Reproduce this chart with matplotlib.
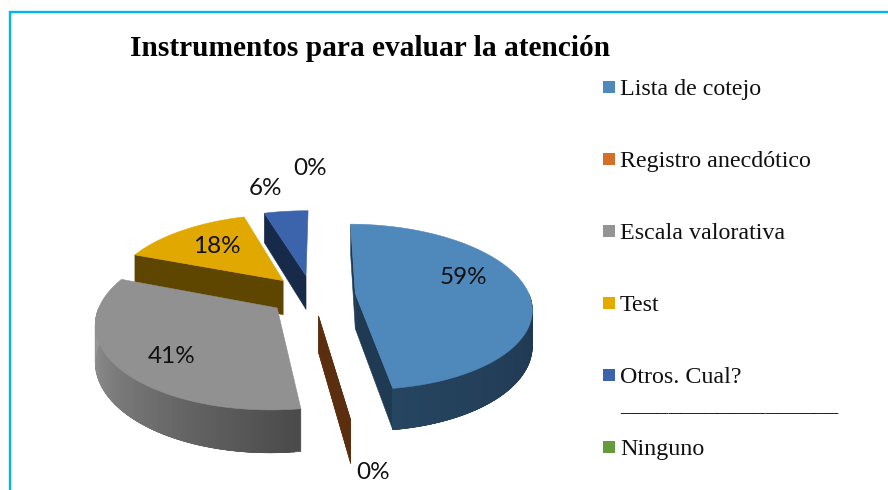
#!/usr/bin/env python3
import numpy as np
import matplotlib
matplotlib.use("Agg")
import matplotlib.pyplot as plt
from matplotlib.colors import to_rgb
from matplotlib.patches import Polygon, Rectangle

# Data (the percentages add up to 124 in the original)
title = "Instrumentos para evaluar la atención"
categories = ["Lista de cotejo", "Registro anecdótico", "Escala valorativa", "Test",
              "Otros. Cual?\n__________________", "Ninguno"]
values = [59, 0, 41, 18, 6, 0]
slice_labels = ["59%", "0%", "41%", "18%", "6%", "0%"]

legend_colors = ["#4f88bb", "#d46f2a", "#949494", "#e3aa00", "#3c64ad", "#659b3c"]
top_colors = ["#4f88bb", "#d46f2a", "#919191", "#e0a800", "#3c64ad", "#659b3c"]
wall_colors = ["#1f3a52", "#5c2e10", "#6e6e6e", "#5e4500", "#172a4a", "#33501e"]
rim_from = ["#1f3650", "#5c2e10", "#9a9a9a", "#5e4500", "#172a4a", "#33501e"]
rim_to = ["#264560", "#5c2e10", "#4a4a4a", "#5e4500", "#172a4a", "#33501e"]
label_pos = [(463, 277), (373, 472), (172, 356), (217, 246), (265, 188), (310, 168)]

# pie geometry in pixels
CX, CY = 312, 295
RX, RY = 174, 81
PERSP = 0.16
DEPTH = 35
EXPLODE = 0.25
START = 0.5


def project(theta, radius, off_u=0.0, off_v=0.0, down=0.0):
    # theta clockwise from the top, disc coords -> image pixels
    t = np.radians(theta)
    u = radius * np.sin(t) + off_u
    v = radius * np.cos(t) + off_v
    s = 1.0 / (1.0 + PERSP * v)
    return CX + RX * u * s, CY - RY * v * s + DEPTH * s * down


def face(ax, pts, color, z):
    ax.add_patch(Polygon(pts, closed=True, facecolor=color, edgecolor=color, lw=0.4, zorder=z))


fig = plt.figure(figsize=(8.88, 4.9), dpi=100)
ax = fig.add_axes([0, 0, 1, 1])
ax.set_xlim(0, 888)
ax.set_ylim(490, 0)
ax.axis("off")

# frame of the chart, cut by the image on the right and at the bottom
ax.plot([10, 10, 888], [490, 12.5, 12.5], color="#00b5f5", lw=1.7, solid_joinstyle="miter", zorder=1)

edges = START + np.concatenate([[0], np.cumsum(values)]) / sum(values) * 360
# back slices first, so the front ones sit on top of them
draw_order = [4, 3, 2, 0, 1]
for n, i in enumerate(draw_order):
    z = 3 + n
    a, b = edges[i], edges[i + 1]
    mid = (a + b) / 2
    off_u = EXPLODE * np.sin(np.radians(mid))
    off_v = EXPLODE * np.cos(np.radians(mid))
    apex = project(0, 0, off_u, off_v)
    apex_low = project(0, 0, off_u, off_v, 1)

    # side walls, only those that face the viewer
    for ang, show in ((a, i in (0, 1, 3, 4)), (b, i in (0, 1))):
        if show:
            face(ax, [apex, project(ang, 1, off_u, off_v), project(ang, 1, off_u, off_v, 1), apex_low],
                 wall_colors[i], z)

    if values[i] == 0:
        continue

    # outer rim with a shaded gradient, quads overlap so no seams show
    lo, hi = max(a, 90), min(b, 270)
    if hi > lo:
        steps = np.linspace(lo, hi, 60)
        c0, c1 = np.array(to_rgb(rim_from[i])), np.array(to_rgb(rim_to[i]))
        for k in range(len(steps) - 1):
            f = (k + 0.5) / (len(steps) - 1)
            col = c0 + (c1 - c0) * f
            if i == 2:
                # gray goes dark (front) to light (left)
                col = c1 + (c0 - c1) * f
            end = steps[min(k + 3, len(steps) - 1)]
            face(ax, [project(steps[k], 1, off_u, off_v), project(end, 1, off_u, off_v),
                      project(end, 1, off_u, off_v, 1), project(steps[k], 1, off_u, off_v, 1)],
                 tuple(col), z)

    # top surface
    arc = np.linspace(a, b, 120)
    xs, ys = project(arc, 1, off_u, off_v)
    face(ax, [apex] + list(zip(xs, ys)), top_colors[i], z + 0.5)

for txt, (x, y) in zip(slice_labels, label_pos):
    ax.text(x, y, txt, family="Lato", fontsize=17.5, color="#111111", ha="center", va="center", zorder=20)

ax.text(130, 48, title, family="Liberation Serif", fontweight="bold", fontsize=21.2,
        color="black", ha="left", va="center", zorder=20)

for i, cat in enumerate(categories):
    y = 87 + 72 * i
    ax.add_patch(Rectangle((603, y - 6), 12, 12, facecolor=legend_colors[i], edgecolor="none", zorder=10))
    for j, line in enumerate(cat.split("\n")):
        ax.text(620, y + 2 + 29 * j, line, family="Liberation Serif", fontsize=17.3, color="#111111",
                ha="left", va="center", zorder=10)

fig.savefig("out.png", dpi=100, facecolor="white")
